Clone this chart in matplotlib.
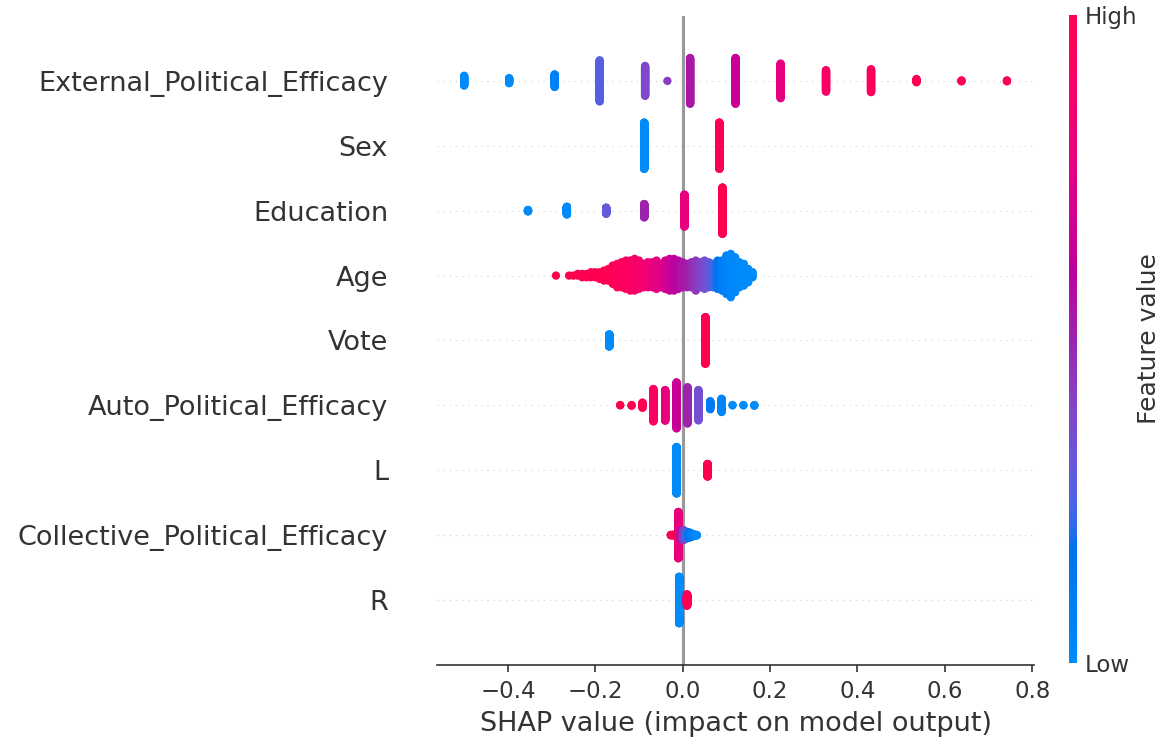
import numpy as np
import matplotlib
matplotlib.use("Agg")
import matplotlib.pyplot as plt
from matplotlib.colors import LinearSegmentedColormap, Normalize
from matplotlib.cm import ScalarMappable

# feature names, top row first
features = [
    "External_Political_Efficacy", "Sex", "Education", "Age", "Vote",
    "Auto_Political_Efficacy", "L", "Collective_Political_Efficacy", "R",
]

# each row: SHAP values of the point groups, how many samples sit at each value,
# and the (normalised) feature value that sets the colour
ext_shap = [-0.500, -0.397, -0.293, -0.190, -0.086, -0.035, 0.017, 0.121, 0.224, 0.328, 0.431, 0.535, 0.638, 0.742]
ext_count = [22, 12, 28, 89, 65, 1, 99, 99, 75, 47, 50, 8, 3, 3]
ext_color = [0.0, 0.0, 0.08, 0.27, 0.38, 0.42, 0.55, 0.65, 0.78, 0.9, 0.95, 1.0, 1.0, 1.0]

sex_shap = [-0.088, 0.084]
sex_count = [300, 300]
sex_color = [0.0, 1.0]

edu_shap = [-0.354, -0.265, -0.175, -0.088, 0.004, 0.091]
edu_count = [9, 44, 35, 75, 178, 259]
edu_color = [0.0, 0.0, 0.3, 0.5, 0.8, 1.0]

age_shap = [-0.29, -0.26, -0.25, -0.24, -0.23, -0.22, -0.21, -0.20, -0.19, -0.18,
            -0.17, -0.16, -0.15, -0.14, -0.13, -0.12, -0.11, -0.10, -0.09, -0.08,
            -0.07, -0.06, -0.05, -0.04, -0.03, -0.02, -0.01, 0.00, 0.01, 0.02,
            0.03, 0.04, 0.05, 0.06, 0.07, 0.08, 0.09, 0.10, 0.11, 0.12,
            0.13, 0.14, 0.15, 0.16]
age_count = [1, 1, 1, 2, 3, 3, 4, 4, 5, 7,
             8, 12, 15, 16, 18, 19, 20, 18, 15, 16,
             16, 18, 15, 18, 20, 20, 18, 16, 15, 16,
             19, 16, 18, 16, 15, 18, 19, 24, 27, 22,
             16, 14, 9, 4]
age_color = [1.0, 1.0, 1.0, 1.0, 1.0, 1.0, 1.0, 1.0, 1.0, 1.0,
             0.98, 0.97, 0.96, 0.95, 0.94, 0.92, 0.9, 0.88, 0.86, 0.84,
             0.8, 0.77, 0.74, 0.7, 0.66, 0.62, 0.58, 0.55, 0.52, 0.48,
             0.44, 0.4, 0.35, 0.3, 0.22, 0.15, 0.1, 0.06, 0.03, 0.02,
             0.0, 0.0, 0.0, 0.0]

vote_shap = [-0.168, 0.052]
vote_count = [124, 476]
vote_color = [0.0, 1.0]

auto_shap = [-0.143, -0.117, -0.092, -0.067, -0.040, -0.014, 0.011, 0.036, 0.063, 0.089, 0.114, 0.139, 0.164]
auto_count = [2, 3, 16, 94, 89, 133, 105, 88, 24, 39, 2, 2, 3]
auto_color = [1.0, 1.0, 1.0, 0.92, 0.8, 0.65, 0.5, 0.35, 0.12, 0.05, 0.0, 0.0, 0.0]

l_shap = [-0.014, 0.057]
l_count = [472, 128]
l_color = [0.0, 1.0]

coll_shap = [-0.010, -0.027, -0.021, -0.004, 0.002, 0.008, 0.014, 0.020, 0.026, 0.032]
coll_count = [330, 4, 6, 60, 70, 50, 40, 25, 10, 5]
coll_color = [0.8, 1.0, 1.0, 0.55, 0.4, 0.25, 0.15, 0.1, 0.05, 0.0]

r_shap = [-0.008, 0.010]
r_count = [484, 116]
r_color = [0.0, 1.0]

rows = [
    (ext_shap, ext_count, ext_color),
    (sex_shap, sex_count, sex_color),
    (edu_shap, edu_count, edu_color),
    (age_shap, age_count, age_color),
    (vote_shap, vote_count, vote_color),
    (auto_shap, auto_count, auto_color),
    (l_shap, l_count, l_color),
    (coll_shap, coll_count, coll_color),
    (r_shap, r_count, r_color),
]

axis_color = "#333333"
row_height = 0.4


def lch_to_rgb(l, c, h):
    # LCh -> Lab -> XYZ (D65) -> sRGB
    a, b = c * np.cos(h), c * np.sin(h)
    fy = (l + 16) / 116
    f = np.array([a / 500 + fy, fy, fy - b / 200])
    f = np.where(f > 0.2068966, f ** 3, (f - 16 / 116) / 7.787)
    xyz = f * np.array([0.95047, 1.0, 1.08883])
    m = np.array([[3.24048134, -1.53715152, -0.49853633],
                  [-0.96925495, 1.87599, 0.04155593],
                  [0.05564664, -0.20404134, 1.05731107]])
    rgb = m @ xyz
    rgb = np.where(rgb > 0.0031308, 1.055 * np.abs(rgb) ** (1 / 2.4) - 0.055, 12.92 * rgb)
    return np.clip(rgb, 0, 1)


def make_red_blue(nsteps=100):
    blue_lch = [54.0, 70.0, 4.6588]
    red_lch = [54.0, 90.0, 0.35470565 + 2 * np.pi]
    l_mid = 40.0
    l_vals = list(np.linspace(blue_lch[0], l_mid, nsteps // 2)) + list(np.linspace(l_mid, red_lch[0], nsteps // 2))
    c_vals = np.linspace(blue_lch[1], red_lch[1], nsteps)
    h_vals = np.linspace(blue_lch[2], red_lch[2], nsteps)
    colors = [lch_to_rgb(l, c, h) for l, c, h in zip(l_vals, c_vals, h_vals)]
    return LinearSegmentedColormap.from_list("red_blue", colors)


def swarm_offsets(shaps, nbins=100):
    # stack points that fall into the same bin, alternating above/below the row
    quant = np.round(nbins * (shaps - shaps.min()) / (shaps.max() - shaps.min() + 1e-8))
    inds = np.argsort(quant, kind="stable")
    ys = np.zeros(len(shaps))
    layer = 0
    last_bin = -1
    for ind in inds:
        if quant[ind] != last_bin:
            layer = 0
        ys[ind] = np.ceil(layer / 2) * ((layer % 2) * 2 - 1)
        layer += 1
        last_bin = quant[ind]
    ys *= 0.9 * (row_height / np.max(ys + 1))
    return ys


cmap = make_red_blue()

fig = plt.figure(figsize=(1167 / 150, 740 / 150), dpi=150)
ax = fig.add_axes([0.3745, 0.1014, 0.5116, 0.877])

n = len(features)
for i, (vals, counts, cols) in enumerate(rows):
    pos = n - 1 - i
    ax.axhline(y=pos, color="#cccccc", lw=0.5, dashes=(1, 5), zorder=-1)
    shaps = np.repeat(np.array(vals, dtype=float), counts)
    cvals = np.repeat(np.array(cols, dtype=float), counts)
    ys = swarm_offsets(shaps)
    ax.scatter(shaps, pos + ys, c=cvals, cmap=cmap, vmin=0, vmax=1, s=16,
               alpha=1, linewidth=0, zorder=3, rasterized=True)

ax.axvline(x=0, color="#999999", zorder=-1)

ax.set_yticks(range(n))
ax.set_yticklabels(features[::-1], fontsize=13)
ax.set_ylim(-1, n)
ax.yaxis.set_ticks_position("none")
ax.tick_params(axis="y", length=0, pad=23.5, labelcolor=axis_color)
ax.tick_params(axis="x", labelsize=11, color=axis_color, labelcolor=axis_color)
ax.xaxis.set_ticks_position("bottom")
for side in ["top", "right", "left"]:
    ax.spines[side].set_visible(False)
ax.spines["bottom"].set_color(axis_color)
ax.set_xlabel("SHAP value (impact on model output)", fontsize=13, color=axis_color)

cax = fig.add_axes([0.916, 0.104, 0.0069, 0.876])
sm = ScalarMappable(norm=Normalize(0, 1), cmap=cmap)
cb = fig.colorbar(sm, cax=cax, ticks=[0, 1])
cb.set_ticklabels(["Low", "High"])
cb.ax.tick_params(labelsize=11, length=0, labelcolor=axis_color)
cb.set_label("Feature value", size=12, labelpad=0, color=axis_color)
cb.outline.set_visible(False)

fig.savefig("out.png", dpi=150)
